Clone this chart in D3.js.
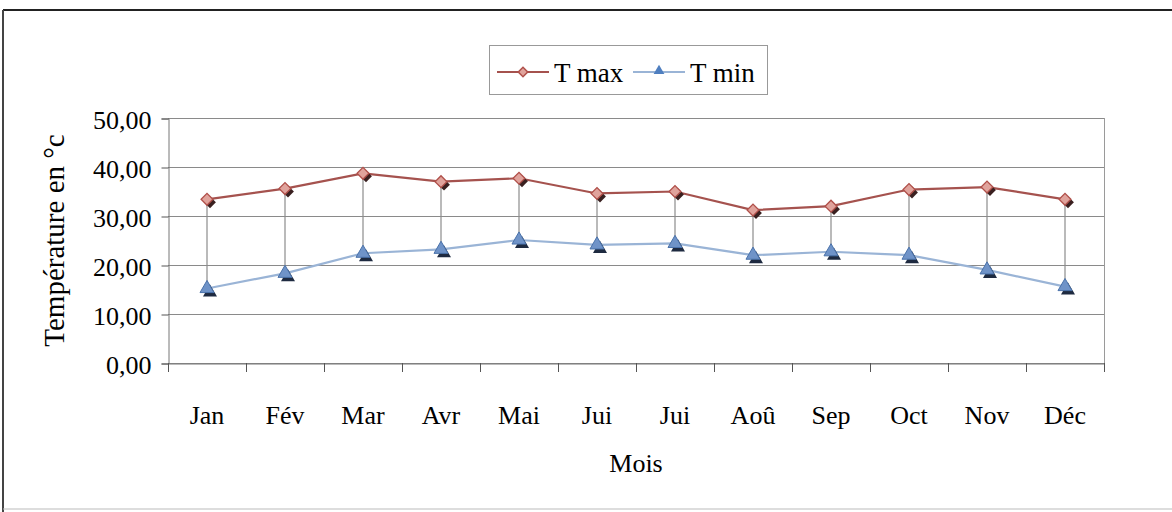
<!DOCTYPE html>
<html><head><meta charset="utf-8">
<script src="https://cdn.jsdelivr.net/npm/d3@7"></script>
<style>body{margin:0;background:#fff}svg{display:block}text{font-family:"Liberation Serif","Times New Roman",serif;fill:#000}</style>
</head><body><svg id="c" width="1172" height="512"></svg>
<script>
const months = ["Jan","Fév","Mar","Avr","Mai","Jui","Jui","Aoû","Sep","Oct","Nov","Déc"];
const tmax = [33.4,35.6,38.7,37.0,37.7,34.6,35.0,31.2,32.0,35.4,35.9,33.4];
const tmin = [15.2,18.3,22.4,23.2,25.1,24.1,24.4,22.0,22.7,22.0,19.0,15.6];
const yTicks = [0,10,20,30,40,50];
const seriesNames = ["T max","T min"];

const svg = d3.select("#c");
const L=168,R=1104,T=118,B=363;
const x = d3.scaleBand().domain(d3.range(months.length)).range([L,R]);
const y = d3.scaleLinear().domain([0,50]).range([B,T]);
const cx = i => x(i)+x.bandwidth()/2;

// outer frame
svg.append("line").attr("x1",3).attr("x2",1172).attr("y1",10).attr("y2",10).attr("stroke","#222").attr("stroke-width",2);
svg.append("line").attr("x1",3).attr("x2",3).attr("y1",10).attr("y2",512).attr("stroke","#444").attr("stroke-width",2);
svg.append("line").attr("x1",3).attr("x2",1172).attr("y1",509).attr("y2",509).attr("stroke","#bbb").attr("stroke-width",1);

// gridlines
svg.append("g").selectAll("line").data(yTicks).join("line")
  .attr("x1",L).attr("x2",R).attr("y1",d=>y(d)+0.5).attr("y2",d=>y(d)+0.5)
  .attr("stroke","#8a8a8a").attr("stroke-width",1);
// right border
svg.append("line").attr("x1",R+0.5).attr("x2",R+0.5).attr("y1",T).attr("y2",B).attr("stroke","#9a9a9a");

// y axis
const ya = svg.append("g").attr("transform",`translate(${L+0.5},0.5)`)
  .call(d3.axisLeft(y).tickValues(yTicks).tickSize(7).tickPadding(10).tickFormat(d=>d3.format(".2f")(d).replace(".",",")));
ya.select(".domain").attr("stroke","#777");
ya.selectAll(".tick line").attr("stroke","#555");
ya.selectAll("text").attr("font-size",26).attr("font-family","Liberation Serif").attr("dy","0.38em");

// x axis
const xa = svg.append("g").attr("transform",`translate(0,${B+0.5})`)
  .call(d3.axisBottom(x).tickSize(0).tickFormat(i=>months[i]));
xa.select(".domain").attr("stroke","#777");
xa.selectAll("text").attr("font-size",26).attr("font-family","Liberation Serif").attr("y",42);
const bounds = d3.range(months.length+1).map(i=> i<months.length ? x(i) : R);
svg.append("g").selectAll("line").data(bounds).join("line")
  .attr("x1",d=>d+0.5).attr("x2",d=>d+0.5).attr("y1",B).attr("y2",B+9).attr("stroke","#555");

// high-low lines
svg.append("g").selectAll("line").data(months).join("line")
  .attr("x1",(d,i)=>cx(i)).attr("x2",(d,i)=>cx(i))
  .attr("y1",(d,i)=>y(tmax[i])).attr("y2",(d,i)=>y(tmin[i]))
  .attr("stroke","#8c8c8c").attr("stroke-width",1.2);

const line = d3.line().x((d,i)=>cx(i)).y(d=>y(d));
svg.append("path").datum(tmax).attr("d",line).attr("fill","none").attr("stroke","#a5524e").attr("stroke-width",2.2);
svg.append("path").datum(tmin).attr("d",line).attr("fill","none").attr("stroke","#9ab4d6").attr("stroke-width",2.2);

const tri = d3.symbol().type(d3.symbolTriangle).size(85);
// markers with shadow
svg.append("g").selectAll("path").data(tmax).join("path")
  .attr("d",d3.symbol().type(d3.symbolSquare).size(70)).attr("transform",(d,i)=>`translate(${cx(i)+3},${y(d)+3}) rotate(45)`)
  .attr("fill","#3a2020");
svg.append("g").selectAll("path").data(tmax).join("path")
  .attr("d",d3.symbol().type(d3.symbolSquare).size(70)).attr("transform",(d,i)=>`translate(${cx(i)},${y(d)}) rotate(45)`)
  .attr("fill","#e0a39c").attr("stroke","#b0504a").attr("stroke-width",1.3);
svg.append("g").selectAll("path").data(tmin).join("path")
  .attr("d",tri).attr("transform",(d,i)=>`translate(${cx(i)+3},${y(d)+4})`).attr("fill","#1e2a40");
svg.append("g").selectAll("path").data(tmin).join("path")
  .attr("d",tri).attr("transform",(d,i)=>`translate(${cx(i)},${y(d)})`).attr("fill","#6f93c8").attr("stroke","#4a72aa").attr("stroke-width",1);

// axis titles
svg.append("text").attr("x",(L+R)/2).attr("y",472).attr("text-anchor","middle").attr("font-size",26).text("Mois");
svg.append("text").attr("transform",`translate(64,${(T+B)/2}) rotate(-90)`).attr("text-anchor","middle").attr("font-size",29).text("Température en °c");

// legend
const lg = svg.append("g");
lg.append("rect").attr("x",489.5).attr("y",45.5).attr("width",278).attr("height",49).attr("fill","#fff").attr("stroke","#999");
const items = [{n:seriesNames[0],x0:497,col:"#a5524e"},{n:seriesNames[1],x0:633,col:"#9ab4d6"}];
items.forEach((it,k)=>{
  lg.append("line").attr("x1",it.x0).attr("x2",it.x0+52).attr("y1",72).attr("y2",72).attr("stroke",it.col).attr("stroke-width",2);
  if(k===0) lg.append("path").attr("d",d3.symbol().type(d3.symbolSquare).size(45)).attr("transform",`translate(${it.x0+26},72) rotate(45)`).attr("fill","#e0a39c").attr("stroke","#b0504a").attr("stroke-width",1.5);
  else lg.append("path").attr("d",d3.symbol().type(d3.symbolTriangle).size(50)).attr("transform",`translate(${it.x0+26},71)`).attr("fill","#4f7fc0");
  lg.append("text").attr("x",it.x0+57).attr("y",82).attr("font-size",27).text(it.n);
});
</script></body></html>
